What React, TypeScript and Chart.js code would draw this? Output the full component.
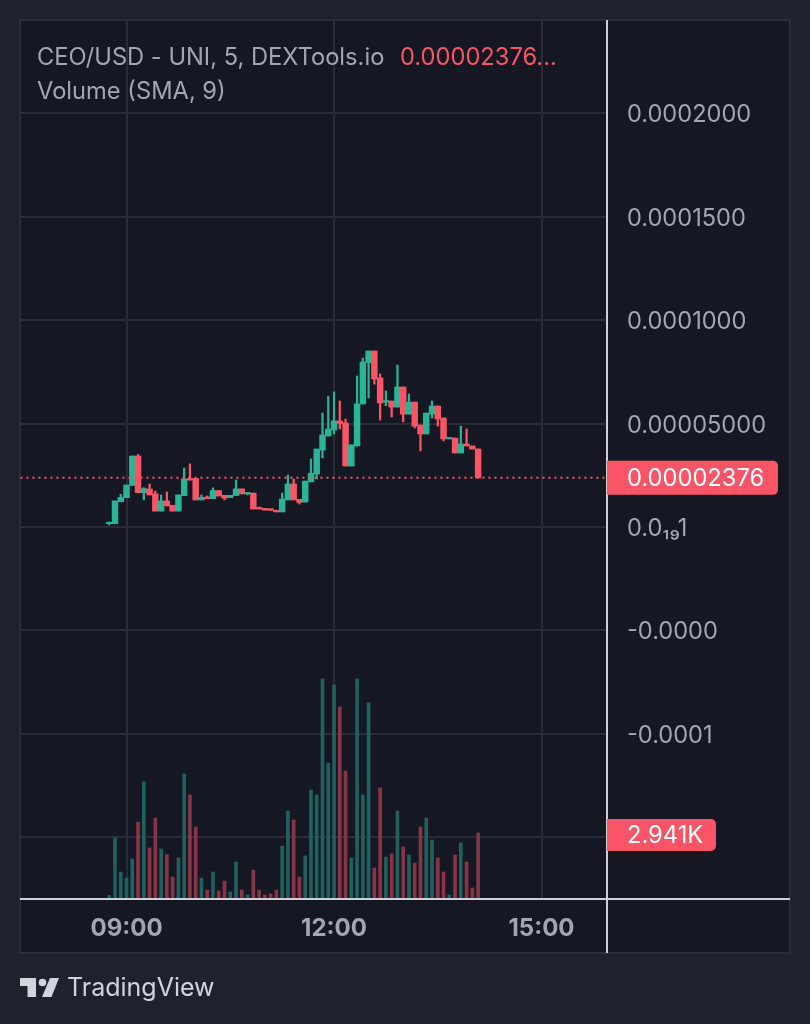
import { useEffect, useRef } from "react";
import { Chart, registerables } from "chart.js";

Chart.register(...registerables);

const barTimes = [
  "08:45", "08:50", "08:55", "09:00", "09:05", "09:10", "09:15", "09:20", "09:25", "09:30",
  "09:35", "09:40", "09:45", "09:50", "09:55", "10:00", "10:05", "10:10", "10:15", "10:20",
  "10:25", "10:30", "10:35", "10:40", "10:45", "10:50", "10:55", "11:00", "11:05", "11:10",
  "11:15", "11:20", "11:25", "11:30", "11:35", "11:40", "11:45", "11:50", "11:55", "12:00",
  "12:05", "12:10", "12:15", "12:20", "12:25", "12:30", "12:35", "12:40", "12:45", "12:50",
  "12:55", "13:00", "13:05", "13:10", "13:15", "13:20", "13:25", "13:30", "13:35", "13:40",
  "13:45", "13:50", "13:55", "14:00", "14:05",
];

// prices are in units of 0.00001
const opens = [
  0.16, 0.16, 1.22, 1.42, 2.01, 3.43, 1.66, 1.84, 1.6, 0.77, 1.26, 1.05, 0.77, 1.52, 2.32, 2.35,
  1.31, 1.45, 1.37, 1.76, 1.53, 1.42, 1.52, 1.84, 1.6, 1.64, 0.92, 0.9, 0.87, 0.81, 0.73, 1.31,
  2.08, 1.34, 1.21, 2.18, 2.56, 3.72, 4.4, 4.69, 5.13, 5.03, 2.95, 3.92, 5.95, 7.95, 8.51, 7.21,
  6.04, 6.09, 5.8, 6.77, 5.46, 6.04, 4.93, 4.5, 5.46, 5.85, 5.27, 4.26, 4.3, 3.58, 4.01, 3.92, 3.77,
];
const closes = [
  0.19, 1.26, 1.43, 2.03, 3.43, 1.66, 1.85, 1.55, 0.77, 1.26, 1.02, 0.77, 1.55, 2.32, 2.27, 1.31,
  1.43, 1.37, 1.76, 1.5, 1.4, 1.53, 1.84, 1.6, 1.64, 0.87, 0.87, 0.82, 0.81, 0.73, 1.35, 2.08,
  1.31, 1.19, 2.22, 2.6, 3.77, 4.45, 4.74, 5.13, 5.01, 2.95, 3.97, 5.95, 7.98, 8.51, 7.16, 6.0,
  6.09, 5.8, 6.77, 5.46, 6.04, 4.88, 4.5, 5.51, 5.85, 5.22, 4.26, 4.3, 3.58, 4.01, 3.92, 3.77, 2.376,
];
const highs = [
  0.24, 1.26, 1.58, 2.03, 3.43, 3.51, 1.9, 2.08, 1.74, 1.55, 1.69, 1.05, 1.55, 2.85, 3.05, 2.35,
  1.55, 1.5, 1.89, 1.76, 1.53, 1.53, 2.27, 1.84, 1.64, 1.64, 0.97, 0.9, 0.87, 0.81, 1.64, 2.51,
  2.32, 1.34, 2.22, 3.29, 3.77, 5.51, 6.33, 6.53, 6.09, 5.22, 3.97, 7.3, 8.17, 8.51, 8.51, 7.4,
  6.58, 6.09, 7.83, 6.77, 6.43, 6.04, 4.93, 5.51, 6.09, 5.85, 5.27, 4.3, 4.3, 4.88, 4.74, 3.92, 3.77,
];
const lows = [
  0.1, 0.16, 1.22, 1.42, 2.01, 1.66, 1.31, 1.55, 0.77, 0.77, 1.02, 0.77, 0.77, 1.52, 2.27, 1.31,
  1.31, 1.37, 1.37, 1.5, 1.31, 1.42, 1.52, 1.6, 1.55, 0.87, 0.87, 0.82, 0.81, 0.73, 0.73, 1.31,
  1.31, 1.11, 1.21, 2.18, 2.32, 3.34, 4.4, 4.5, 4.74, 2.95, 2.95, 3.92, 5.95, 6.24, 6.91, 5.17,
  5.87, 5.32, 5.8, 5.08, 5.46, 4.79, 3.68, 4.5, 5.27, 4.88, 4.16, 4.26, 3.58, 3.58, 3.92, 3.77, 2.376,
];
// volume in thousands
const volumes = [
  0.16, 2.72, 1.2, 0.94, 1.78, 3.43, 5.22, 2.27, 3.61, 2.23, 1.98, 0.98, 1.83, 5.57, 4.64, 3.21,
  0.94, 0.4, 1.2, 0.36, 0.8, 0.31, 1.65, 0.4, 0.18, 1.29, 0.4, 0.18, 0.22, 0.4, 2.36, 3.92,
  3.52, 0.98, 1.92, 4.86, 4.64, 9.81, 6.06, 9.54, 8.56, 5.71, 1.83, 9.81, 4.64, 8.74, 1.38, 4.95,
  1.87, 2.01, 3.92, 2.32, 1.96, 1.6, 3.21, 3.61, 2.63, 1.83, 1.2, 0.18, 1.96, 2.5, 1.65, 0.49, 2.941,
];

const priceTicks = [0.0002, 0.00015, 0.0001, 0.00005, 0, -0.00005, -0.0001, -0.00015];
const priceLabels = ["0.0002000", "0.0001500", "0.0001000", "0.00005000", "0.0₁₉1", "-0.0000", "-0.0001", ""];
const timeTicks = ["09:00", "12:00", "15:00"];

const lastPrice = 0.00002376;
const lastPriceLabel = "0.00002376";
const lastVolume = 2.941;
const lastVolumeLabel = "2.941K";
const headerTitle = "CEO/USD - UNI, 5, DEXTools.io";
const headerPrice = "0.00002376...";
const headerVolume = "Volume (SMA, 9)";
const brand = "TradingView";

const UNIT = 0.00001;
const UP = "#2ab397";
const DOWN = "#fa5566";
const UP_VOL = "#20605e";
const DOWN_VOL = "#873444";
const GRID = "#292c37";
const MUTED = "#a3a6af";
const FONT = "Inter, sans-serif";

const toMinutes = (t: string) => {
  const [h, m] = t.split(":").map(Number);
  return h * 60 + m;
};
const isUp = closes.map((c, i) => c >= opens[i]);

// y labels would otherwise push the chart area in as if they sat on its edge
const noPadding = (s: any) => {
  s.paddingTop = 0;
  s.paddingBottom = 0;
  s.paddingLeft = 0;
  s.paddingRight = 0;
};

const overlay = {
  id: "overlay",
  beforeDraw(chart: any) {
    const { ctx } = chart;
    ctx.save();
    ctx.fillStyle = "#1e222d";
    ctx.fillRect(0, 0, chart.width, chart.height);
    ctx.fillStyle = "#151823";
    ctx.fillRect(20, 20, 770, 933);
    ctx.strokeStyle = "#2a2e39";
    ctx.lineWidth = 2;
    ctx.strokeRect(20, 20, 770, 933);
    ctx.restore();
  },
  afterDraw(chart: any) {
    const { ctx, chartArea, scales } = chart;
    const { right, bottom, top, left } = chartArea;
    ctx.save();
    ctx.fillStyle = "#cdd0d8";
    ctx.fillRect(right - 1, top, 2, 933);
    ctx.fillRect(left, bottom - 1, 770, 2);

    ctx.textBaseline = "middle";
    ctx.textAlign = "left";
    const pill = (y: number, w: number, h: number, text: string) => {
      ctx.fillStyle = DOWN;
      ctx.beginPath();
      ctx.roundRect(right, y - h / 2, w, h, [0, 5, 5, 0]);
      ctx.fill();
      ctx.fillStyle = "#ffffff";
      ctx.font = `23.7px ${FONT}`;
      ctx.fillText(text, right + 20, y + 1);
    };
    pill(scales.y.getPixelForValue(lastPrice), 171, 34, lastPriceLabel);
    pill(scales.vol.getPixelForValue(lastVolume) + 2, 109, 32, lastVolumeLabel);

    ctx.font = `23.7px ${FONT}`;
    ctx.fillStyle = MUTED;
    ctx.fillText(headerTitle, 37, 57.5);
    ctx.fillText(headerVolume, 37, 91.5);
    ctx.fillStyle = DOWN;
    ctx.fillText(headerPrice, 400, 57.5);

    // logo
    ctx.fillStyle = "#d1d4dc";
    ctx.fillRect(20, 978, 16, 8);
    ctx.fillRect(27.5, 978, 8.5, 19);
    ctx.beginPath();
    ctx.arc(42.5, 982.5, 3.8, 0, Math.PI * 2);
    ctx.fill();
    ctx.beginPath();
    ctx.moveTo(50, 978);
    ctx.lineTo(59, 978);
    ctx.lineTo(51.5, 997);
    ctx.lineTo(42, 997);
    ctx.closePath();
    ctx.fill();
    ctx.font = `25px ${FONT}`;
    ctx.fillText(brand, 67, 988);
    ctx.restore();
  },
};

export default function App() {
  const ref = useRef<HTMLCanvasElement>(null);

  useEffect(() => {
    const chart = new Chart(ref.current!, {
      type: "bar",
      data: {
        datasets: [
          {
            type: "line",
            data: [
              { x: 448, y: lastPrice },
              { x: 958, y: lastPrice },
            ],
            borderColor: DOWN,
            borderWidth: 2,
            borderDash: [2, 4],
            pointRadius: 0,
            order: 0,
          },
          {
            data: barTimes.map((t, i) => ({
              x: toMinutes(t),
              y: [opens[i] * UNIT, closes[i] * UNIT],
            })),
            backgroundColor: isUp.map((u) => (u ? UP : DOWN)),
            barThickness: 5.8,
            minBarLength: 1.5,
            grouped: false,
            order: 1,
          },
          {
            data: barTimes.map((t, i) => ({
              x: toMinutes(t),
              y: [lows[i] * UNIT, highs[i] * UNIT],
            })),
            backgroundColor: isUp.map((u) => (u ? UP : DOWN)),
            barThickness: 1.6,
            grouped: false,
            order: 2,
          },
          {
            yAxisID: "vol",
            data: barTimes.map((t, i) => ({ x: toMinutes(t), y: volumes[i] })),
            backgroundColor: isUp.map((u) => (u ? UP_VOL : DOWN_VOL)),
            barThickness: 3,
            grouped: false,
            order: 3,
          },
        ] as any,
      },
      plugins: [overlay],
      options: {
        animation: false,
        responsive: false,
        devicePixelRatio: 1,
        layout: { padding: { left: 20, top: 20, right: 20, bottom: 71 } },
        plugins: { legend: { display: false }, tooltip: { enabled: false } },
        scales: {
          x: {
            type: "linear",
            offset: false,
            min: 447.6,
            max: 956.8,
            afterBuildTicks: (s: any) => {
              s.ticks = timeTicks.map((t) => ({ value: toMinutes(t) }));
            },
            afterFit: (s: any) => {
              s.height = 54;
              noPadding(s);
            },
            grid: { offset: false, color: GRID, lineWidth: 2, drawTicks: false },
            border: { display: false },
            ticks: {
              autoSkip: false,
              maxRotation: 0,
              padding: 15,
              color: MUTED,
              font: { family: "Inter, sans-serif", size: 24, weight: "bold" },
              callback: (_v: any, i: number) => timeTicks[i],
            },
          },
          y: {
            position: "right",
            min: -0.00017988,
            max: 0.00024516,
            afterBuildTicks: (s: any) => {
              s.ticks = priceTicks.map((value) => ({ value }));
            },
            afterFit: (s: any) => {
              s.width = 183;
              noPadding(s);
            },
            grid: { color: GRID, lineWidth: 2, drawTicks: false },
            border: { display: false },
            ticks: {
              autoSkip: false,
              padding: 20,
              labelOffset: 2,
              crossAlign: "near",
              color: MUTED,
              font: { family: "Inter, sans-serif", size: 23.6 },
              callback: (_v: any, i: number) => priceLabels[i],
            },
          },
          vol: {
            display: false,
            min: 0,
            max: 39.17,
          },
        },
      } as any,
    });
    return () => chart.destroy();
  }, []);

  return (
    <div style={{ position: "fixed", left: 0, top: 0, width: 810, height: 1024, background: "#1e222d" }}>
      <canvas ref={ref} width={810} height={1024} style={{ display: "block", width: 810, height: 1024 }} />
    </div>
  );
}
